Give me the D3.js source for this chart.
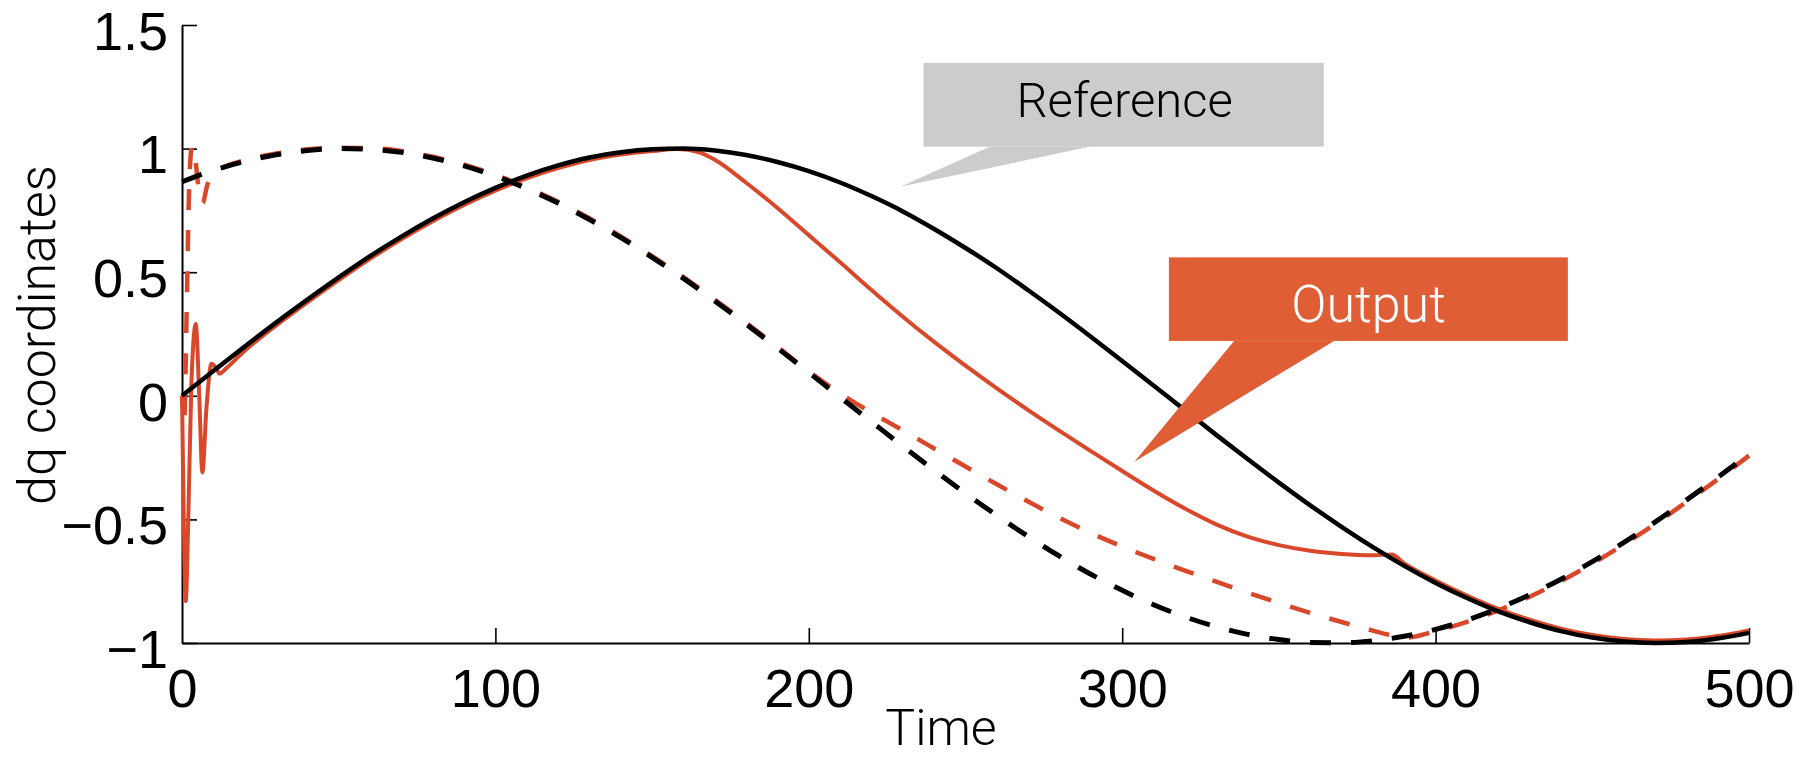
<!DOCTYPE html>
<html>
<head>
<meta charset="utf-8">
<script src="https://cdn.jsdelivr.net/npm/d3@7"></script>
<style>
  body { margin: 0; background: #fff; }
  .tick text { font-family: "Liberation Sans", Arial, sans-serif; font-size: 54px; fill: #000; }
  .title { font-family: Roboto, "Liberation Sans", sans-serif; font-weight: 300; fill: #000; }
</style>
</head>
<body>
<svg id="chart" width="1800" height="757"></svg>
<script>
// Reference dq signals, sampled every 10 time units
const refTime = [0,10,20,30,40,50,60,70,80,90,100,110,120,130,140,150,160,170,180,190,200,
  210,220,230,240,250,260,270,280,290,300,310,320,330,340,350,360,370,380,390,400,
  410,420,430,440,450,460,470,480,490,500];
const refD = [0,0.100,0.199,0.296,0.389,0.479,0.565,0.644,0.717,0.783,0.841,0.891,0.932,0.964,0.985,0.997,1.000,
  0.992,0.974,0.946,0.909,0.863,0.808,0.746,0.675,0.598,0.516,0.427,0.335,0.239,0.141,0.042,-0.058,
  -0.158,-0.256,-0.351,-0.443,-0.530,-0.612,-0.688,-0.757,-0.818,-0.872,-0.916,-0.952,-0.978,-0.994,
  -1.000,-0.996,-0.982,-0.959];
const refQ = [0.866,0.912,0.948,0.975,0.992,1.000,0.997,0.985,0.962,0.930,0.889,0.838,0.780,0.713,0.640,
  0.560,0.475,0.384,0.290,0.193,0.094,-0.006,-0.105,-0.204,-0.301,-0.395,-0.484,-0.569,-0.649,-0.722,
  -0.787,-0.845,-0.894,-0.934,-0.965,-0.986,-0.998,-0.999,-0.991,-0.973,-0.945,-0.907,-0.860,-0.805,
  -0.742,-0.671,-0.594,-0.511,-0.422,-0.330,-0.234];

// Controller output, d component (start-up transient sampled densely)
const outDTime = [0,0.5,1.2,2,3,4.4,5.5,6.5,7.8,9.4,11,12,14,20,30,40,50,60,70,80,90,100,110,120,
  130,140,150,158,165,170,180,190,200,210,220,230,240,250,260,270,280,290,300,310,320,330,
  340,350,360,370,380,386,390,400,410,420,430,440,450,460,470,480,490,500];
const outD = [0,-0.45,-0.83,-0.5,0.05,0.29,0.0,-0.31,-0.05,0.13,0.11,0.09,0.11,0.182,0.284,0.378,
  0.468,0.554,0.633,0.706,0.772,0.830,0.880,0.921,0.954,0.976,0.990,0.998,0.985,0.955,0.862,0.760,
  0.650,0.540,0.428,0.320,0.218,0.122,0.030,-0.058,-0.142,-0.224,-0.304,-0.383,-0.456,-0.520,
  -0.570,-0.604,-0.627,-0.640,-0.645,-0.642,-0.678,-0.747,-0.808,-0.862,-0.906,-0.942,-0.968,
  -0.984,-0.990,-0.986,-0.972,-0.949];

// Controller output, q component
const outQTime = [0,0.7,1.5,2.3,3.2,4.2,5.4,6.6,8,9.5,12,20,30,40,50,60,70,80,90,100,110,120,130,
  140,150,160,170,180,190,200,210,220,230,240,250,260,270,280,290,300,310,320,330,340,350,360,
  370,380,386,390,400,410,420,430,440,450,460,470,480,490,500];
const outQ = [0,-0.1,0.35,0.85,1.01,0.96,0.83,0.78,0.85,0.89,0.915,0.953,0.980,0.997,1.003,1.002,
  0.990,0.967,0.935,0.894,0.843,0.785,0.718,0.645,0.565,0.480,0.389,0.295,0.198,0.099,0.010,-0.068,
  -0.140,-0.213,-0.286,-0.358,-0.428,-0.494,-0.555,-0.610,-0.660,-0.707,-0.752,-0.796,-0.838,
  -0.878,-0.915,-0.950,-0.970,-0.979,-0.952,-0.915,-0.868,-0.813,-0.750,-0.679,-0.602,-0.519,
  -0.430,-0.338,-0.242];

const xTicks = [0,100,200,300,400,500];
const xTickLabels = ["0","100","200","300","400","500"];
const yTicks = [-1,-0.5,0,0.5,1,1.5];
const yTickLabels = ["\u22121","\u22120.5","0","0.5","1","1.5"];

// Callout geometry in data units: box [t0,t1] x [v0,v1], tail base [b0,b1], tip point
const refCallout = { label: "Reference", box: [236.6, 364.3, 1.008, 1.347], base: [257.9, 289.9],
  tip: [229.2, 0.846], text: [300.8, 1.129], fill: "#cccccc", color: "#000", size: 49 };
const outCallout = { label: "Output", box: [314.9, 442.2, 0.222, 0.560], base: [335.7, 367.6],
  tip: [303.9, -0.267], text: [378.6, 0.299], fill: "#e05e36", color: "#fff", size: 52 };

const RED = "#d9482b";

const svg = d3.select("#chart");
const x = d3.scaleLinear().domain([0, 500]).range([182, 1749]);
const y = d3.scaleLinear().domain([-1, 1.5]).range([643, 25]);

// Axes: inward ticks, no box
const xAxis = d3.axisBottom(x).tickValues(xTicks).tickFormat((d, i) => xTickLabels[i])
  .tickSizeInner(-15).tickSizeOuter(0).tickPadding(26);
const yAxis = d3.axisLeft(y).tickValues(yTicks).tickFormat((d, i) => yTickLabels[i])
  .tickSizeInner(-15).tickSizeOuter(0).tickPadding(14);

const gx = svg.append("g").attr("transform", `translate(0,${y(-1)})`).call(xAxis);
const gy = svg.append("g").attr("transform", `translate(${x(0)},0)`).call(yAxis);
[gx, gy].forEach(g => {
  g.select(".domain").attr("stroke", "#000").attr("stroke-width", 2);
  g.selectAll(".tick line").attr("stroke", "#000").attr("stroke-width", 1.6);
  g.selectAll(".tick text").attr("font-family", null).attr("font-size", null);
});
gy.selectAll(".tick text").attr("dy", "0.45em");
gx.select(".tick:first-of-type line").remove();

const line = d3.line().x(d => x(d[0])).y(d => y(d[1])).curve(d3.curveMonotoneX);
const pts = (ts, vs) => ts.map((t, i) => [t, vs[i]]);

const refDPts = pts(refTime, refD);
const refQPts = pts(refTime, refQ);
const outDPts = pts(outDTime, outD);
const outQPts = pts(outQTime, outQ);

// Length of a series path up to a given time, used to keep dash phases in step
function lengthUpTo(data, tEnd) {
  const p = svg.append("path").attr("d", line(data.filter(d => d[0] <= tEnd)));
  const L = p.node().getTotalLength();
  p.remove();
  return L;
}
const DASH = "21,20";
const qOffset = lengthUpTo(refQPts, 20) - lengthUpTo(outQPts, 20);

const lines = svg.append("g").attr("fill", "none").attr("stroke-linejoin", "round");
lines.append("path").attr("d", line(outQPts)).attr("stroke", RED).attr("stroke-width", 4.5)
  .attr("stroke-dasharray", DASH).attr("stroke-dashoffset", qOffset);
lines.append("path").attr("d", line(outDPts)).attr("stroke", RED).attr("stroke-width", 4);
lines.append("path").attr("d", line(refQPts)).attr("stroke", "#000").attr("stroke-width", 5)
  .attr("stroke-dasharray", DASH);
lines.append("path").attr("d", line(refDPts)).attr("stroke", "#000").attr("stroke-width", 4.5);

// Callout boxes with pointer tails
function callout(c) {
  const g = svg.append("g");
  g.append("polygon")
    .attr("points", [[x(c.base[0]), y(c.box[2])], [x(c.base[1]), y(c.box[2])], [x(c.tip[0]), y(c.tip[1])]]
      .map(p => p.join(",")).join(" "))
    .attr("fill", c.fill);
  g.append("rect")
    .attr("x", x(c.box[0])).attr("y", y(c.box[3]))
    .attr("width", x(c.box[1]) - x(c.box[0])).attr("height", y(c.box[2]) - y(c.box[3]))
    .attr("fill", c.fill);
  g.append("text").attr("class", "title")
    .attr("x", x(c.text[0])).attr("y", y(c.text[1]))
    .attr("text-anchor", "middle").attr("font-size", c.size)
    .style("fill", c.color).text(c.label);
}
callout(refCallout);
callout(outCallout);

// Axis titles
svg.append("text").attr("class", "title").attr("x", 941).attr("y", 745)
  .attr("text-anchor", "middle").attr("font-size", 50).text("Time");
svg.append("text").attr("class", "title")
  .attr("transform", "translate(55,335) rotate(-90)")
  .attr("text-anchor", "middle").attr("font-size", 52).text("dq coordinates");
</script>
</body>
</html>
